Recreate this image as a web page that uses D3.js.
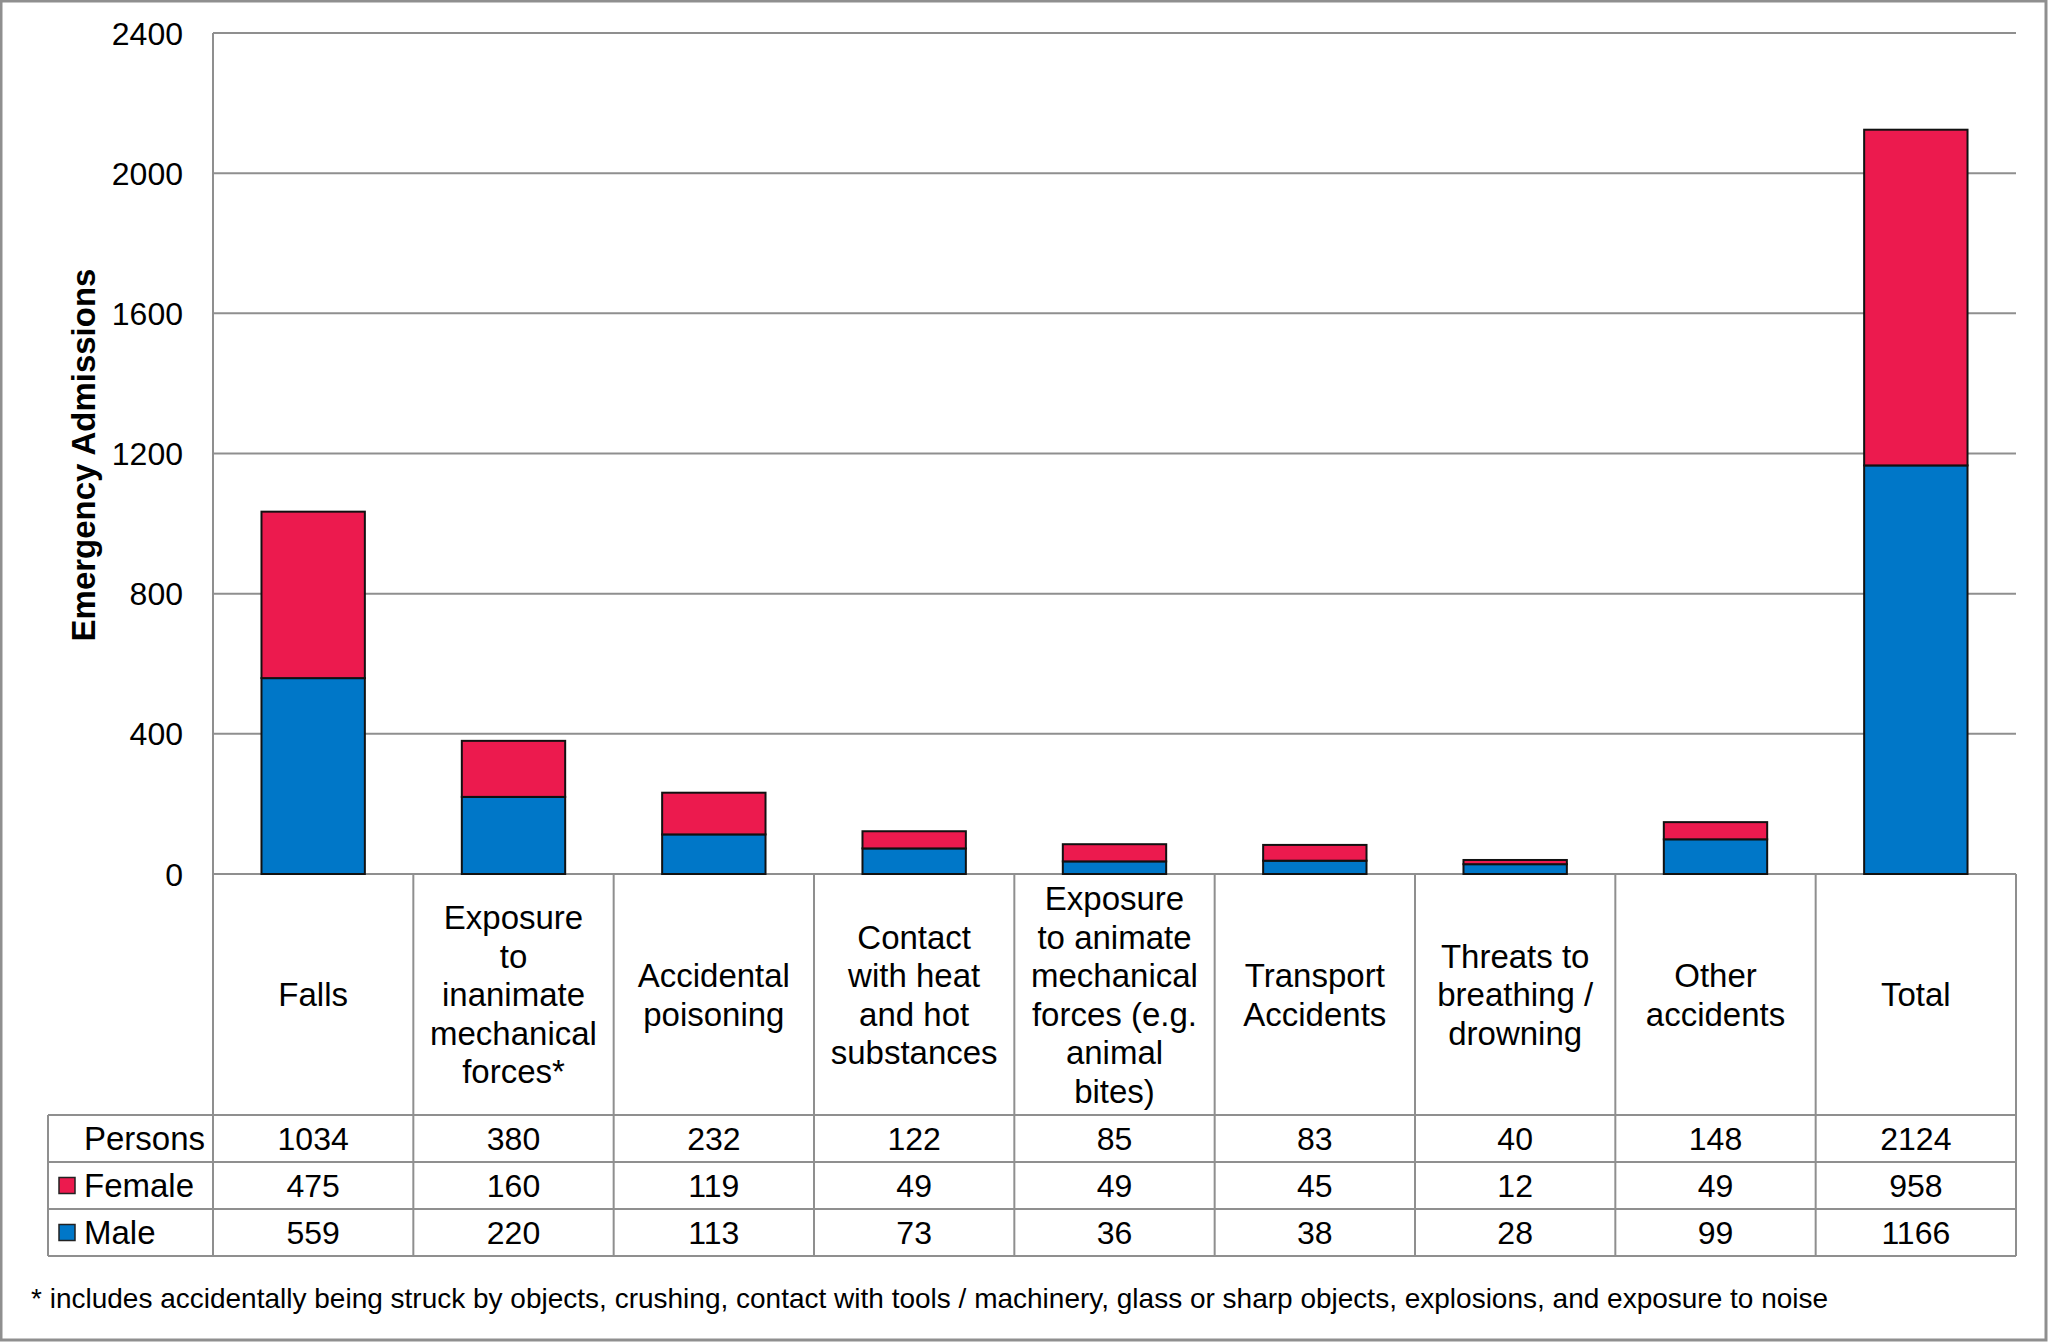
<!DOCTYPE html>
<html>

<head>
    <title>emergency_admissions</title>
    <script src="https://d3js.org/d3.v7.min.js"></script>
    <style>
        body { margin: 0; background: #fff; }
        text { font-family: "Liberation Sans", Arial, sans-serif; fill: #000; }
    </style>
</head>

<body>
    <svg width="2048" height="1342" id="mainsvg"></svg>
    <script>
        // data
        const categories = ['Falls', 'Exposure to inanimate', 'Accidental poisoning', 'Contact with heat',
            'Exposure to animate', 'Transport Accidents', 'Threats to breathing', 'Other accidents', 'Total'];
        const labelLines = [
            ['Falls'],
            ['Exposure', 'to', 'inanimate', 'mechanical', 'forces*'],
            ['Accidental', 'poisoning'],
            ['Contact', 'with heat', 'and hot', 'substances'],
            ['Exposure', 'to animate', 'mechanical', 'forces (e.g.', 'animal', 'bites)'],
            ['Transport', 'Accidents'],
            ['Threats to', 'breathing /', 'drowning'],
            ['Other', 'accidents'],
            ['Total']
        ];
        const male = [559, 220, 113, 73, 36, 38, 28, 99, 1166];
        const female = [475, 160, 119, 49, 49, 45, 12, 49, 958];
        const persons = [1034, 380, 232, 122, 85, 83, 40, 148, 2124];
        const yTicks = [0, 400, 800, 1200, 1600, 2000, 2400];
        const footnote = '* includes accidentally being struck by objects, crushing, contact with tools / machinery, glass or sharp objects, explosions, and exposure to noise';

        const red = '#ec1a4e', blue = '#0077c8', grid = '#8f8f8f';

        let svg = d3.select('#mainsvg');
        const plot = { left: 213, right: 2016, top: 33, bottom: 874 };
        const rowH = 47;
        const tableTop = 1115;
        const tableLeft = 48;

        // outer frame
        svg.append('rect').attr('x', 1).attr('y', 1).attr('width', 2045).attr('height', 1339)
            .attr('fill', 'none').attr('stroke', grid).attr('stroke-width', 3);

        const y = d3.scaleLinear().domain([0, 2400]).range([plot.bottom, plot.top]);
        const col = d3.scaleBand().domain(categories).range([plot.left, plot.right]).padding(0);
        const x = d3.scaleBand().domain(categories).range([plot.left, plot.right])
            .paddingInner(0.484).paddingOuter(0.242);

        const g = svg.append('g');

        // gridlines
        g.selectAll('line.grid').data(yTicks).enter().append('line')
            .attr('x1', plot.left).attr('x2', plot.right)
            .attr('y1', d => y(d)).attr('y2', d => y(d))
            .attr('stroke', grid).attr('stroke-width', 2);

        // y axis line
        g.append('line').attr('x1', plot.left).attr('x2', plot.left)
            .attr('y1', plot.top).attr('y2', tableTop + rowH * 3)
            .attr('stroke', grid).attr('stroke-width', 2);

        g.selectAll('text.ytick').data(yTicks).enter().append('text')
            .attr('x', 183).attr('y', d => y(d)).attr('dy', '0.36em')
            .attr('text-anchor', 'end').attr('font-size', 32)
            .text(d => d);

        svg.append('text')
            .attr('transform', 'translate(83,455) rotate(-90)')
            .attr('dy', '0.36em')
            .attr('text-anchor', 'middle').attr('font-size', 33).attr('font-weight', 'bold')
            .text('Emergency Admissions');

        // stacked bars
        const stack = d3.stack().keys(['male', 'female'])(
            categories.map((c, i) => ({ cat: c, male: male[i], female: female[i] })));
        const colors = { male: blue, female: red };
        stack.forEach(layer => {
            g.selectAll(null).data(layer).enter().append('rect')
                .attr('x', d => x(d.data.cat))
                .attr('width', x.bandwidth())
                .attr('y', d => y(d[1]))
                .attr('height', d => y(d[0]) - y(d[1]))
                .attr('fill', colors[layer.key])
                .attr('stroke', '#111').attr('stroke-width', 2);
        });

        // data table
        const t = svg.append('g');
        // column separators (incl. category label area)
        t.selectAll('line.col').data(categories).enter().append('line')
            .attr('x1', d => col(d) + col.bandwidth())
            .attr('x2', d => col(d) + col.bandwidth())
            .attr('y1', plot.bottom).attr('y2', tableTop + rowH * 3)
            .attr('stroke', grid).attr('stroke-width', 2);
        t.append('line').attr('x1', tableLeft).attr('x2', tableLeft)
            .attr('y1', tableTop).attr('y2', tableTop + rowH * 3)
            .attr('stroke', grid).attr('stroke-width', 2);
        t.selectAll('line.row').data([0, 1, 2, 3]).enter().append('line')
            .attr('x1', tableLeft).attr('x2', plot.right)
            .attr('y1', d => tableTop + d * rowH).attr('y2', d => tableTop + d * rowH)
            .attr('stroke', grid).attr('stroke-width', 2);

        // category labels
        const lh = 38.5;
        labelLines.forEach((lines, i) => {
            const cx = col(categories[i]) + col.bandwidth() / 2;
            const cy = (plot.bottom + tableTop) / 2;
            t.append('text').attr('text-anchor', 'middle').attr('font-size', 33)
                .selectAll('tspan').data(lines).enter().append('tspan')
                .attr('x', cx)
                .attr('y', (d, k) => cy + (k - (lines.length - 1) / 2) * lh)
                .attr('dy', '0.36em')
                .text(d => d);
        });

        const rows = [
            { name: 'Persons', vals: persons, color: null },
            { name: 'Female', vals: female, color: red },
            { name: 'Male', vals: male, color: blue }
        ];
        rows.forEach((r, ri) => {
            const cy = tableTop + ri * rowH + rowH / 2;
            if (r.color) {
                t.append('rect').attr('x', 59).attr('y', cy - 8).attr('width', 16).attr('height', 16)
                    .attr('fill', r.color).attr('stroke', '#222').attr('stroke-width', 1.5);
            }
            t.append('text').attr('x', 84).attr('y', cy).attr('dy', '0.36em')
                .attr('font-size', 33).text(r.name);
            t.selectAll(null).data(r.vals).enter().append('text')
                .attr('x', (d, i) => col(categories[i]) + col.bandwidth() / 2)
                .attr('y', cy).attr('dy', '0.36em')
                .attr('text-anchor', 'middle').attr('font-size', 32)
                .text(d => d);
        });

        svg.append('text').attr('x', 31).attr('y', 1308)
            .attr('font-size', 28).text(footnote);
    </script>
</body>

</html>
